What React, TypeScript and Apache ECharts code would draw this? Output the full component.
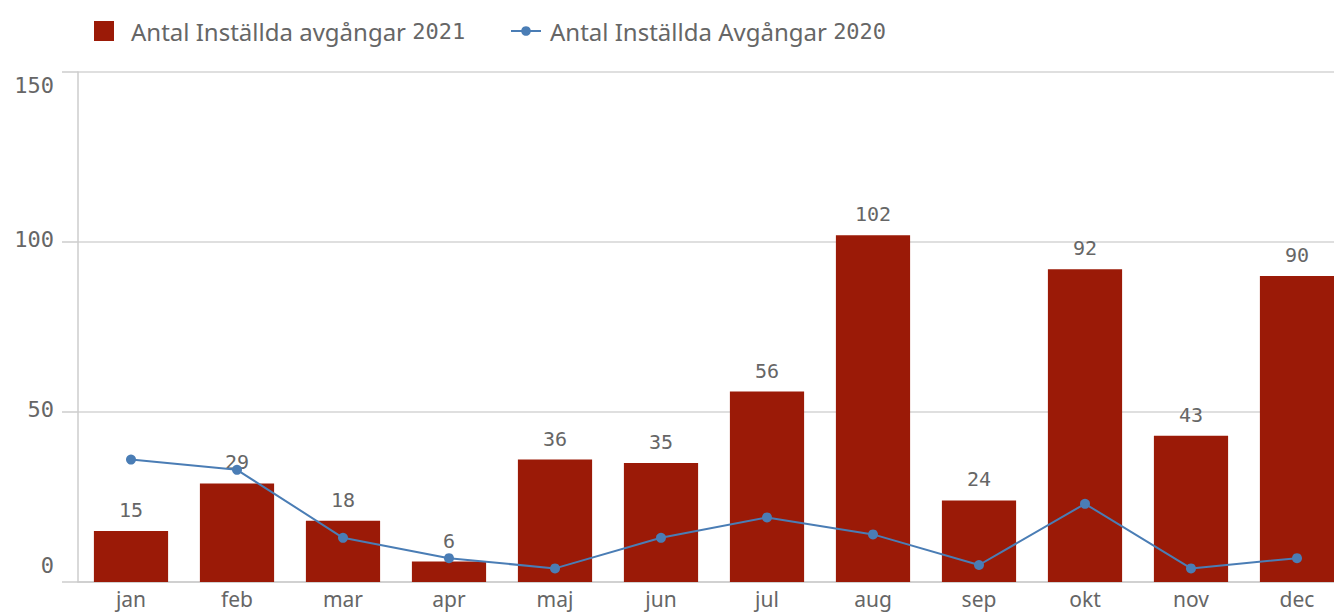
import React, { useEffect, useRef } from "react";
import * as echarts from "echarts";

const months = ["jan", "feb", "mar", "apr", "maj", "jun", "jul", "aug", "sep", "okt", "nov", "dec"];
const cancelled2021 = [15, 29, 18, 6, 36, 35, 56, 102, 24, 92, 43, 90];
const cancelled2020 = [36, 33, 13, 7, 4, 13, 19, 14, 5, 23, 4, 7];
const yMin = 0;
const yMax = 150;
const yStep = 50;
const name2021 = "Antal Inställda avgångar 2021";
const name2020 = "Antal Inställda Avgångar 2020";

const TEXT = "'Noto Sans', 'Open Sans', sans-serif";
const MONO = "'DejaVu Sans Mono', monospace";
const GRAY = "#666666";

function legendFormatter(name: string) {
  const m = name.match(/^(.*?)(\d+)$/);
  if (!m) return name;
  return `{t|${m[1]}}{n|${m[2]}}`;
}

const legendRich = {
  t: { fontFamily: TEXT, fontSize: 24, color: GRAY },
  n: { fontFamily: MONO, fontSize: 22, color: GRAY },
};

const yRich = {
  lo: { fontFamily: MONO, fontSize: 22, color: GRAY, padding: [0, 0, 33, 0] },
  hi: { fontFamily: MONO, fontSize: 22, color: GRAY, padding: [26, 0, 0, 0] },
  mid: { fontFamily: MONO, fontSize: 22, color: GRAY, padding: [0, 0, 5, 0] },
};

export default function App() {
  const ref = useRef<HTMLDivElement>(null);
  useEffect(() => {
    if (!ref.current) return;
    const chart = echarts.init(ref.current, null, { renderer: "svg" });
    chart.setOption({
      animation: false,
      backgroundColor: "#ffffff",
      legend: [
        {
          data: [{ name: name2021, icon: "rect" }],
          left: 94,
          top: 19,
          padding: 0,
          itemWidth: 20,
          itemHeight: 20,
          formatter: legendFormatter,
          textStyle: { rich: legendRich, padding: [0, 0, 0, 12] },
        },
        {
          data: [{ name: name2020 }],
          left: 510,
          top: 19,
          padding: 0,
          itemWidth: 30,
          itemHeight: 12,
          formatter: legendFormatter,
          textStyle: { rich: legendRich, padding: [0, 0, 0, 4] },
        },
      ],
      grid: { left: 78, right: 0, top: 72, bottom: 31, containLabel: false },
      xAxis: {
        type: "category",
        data: months,
        axisLine: { show: true, lineStyle: { color: "#cccccc", width: 1.5 } },
        axisTick: { show: false },
        axisLabel: { color: GRAY, fontFamily: TEXT, fontSize: 21, margin: 6 },
      },
      yAxis: {
        type: "value",
        min: yMin,
        max: yMax,
        interval: yStep,
        axisLine: { show: true, lineStyle: { color: "#cccccc", width: 1.5 } },
        axisTick: { show: true, length: 16, lineStyle: { color: "#cccccc", width: 1.5 } },
        splitLine: { show: true, lineStyle: { color: "#d4d4d4", width: 1.5 } },
        axisLabel: {
          color: GRAY,
          fontFamily: MONO,
          fontSize: 22,
          margin: 24,
          formatter: (v: number) =>
            v === yMin ? `{lo|${v}}` : v === yMax ? `{hi|${v}}` : `{mid|${v}}`,
          rich: yRich,
        },
      },
      series: [
        {
          name: name2021,
          type: "bar",
          data: cancelled2021,
          barWidth: "70%",
          itemStyle: { color: "#9b1a07" },
          label: {
            show: true,
            position: "top",
            distance: 11,
            color: GRAY,
            fontFamily: MONO,
            fontSize: 20,
          },
          z: 2,
        },
        {
          name: name2020,
          type: "line",
          data: cancelled2020,
          symbol: "circle",
          symbolSize: 10,
          lineStyle: { color: "#4a7db5", width: 2 },
          itemStyle: { color: "#4a7db5" },
          z: 5,
        },
      ],
    });
    return () => chart.dispose();
  }, []);
  return (
    <div style={{ position: "fixed", left: 0, top: 0, width: 1334, height: 613, overflow: "hidden", background: "#fff" }}>
      <div ref={ref} style={{ width: 1350, height: 613 }} />
    </div>
  );
}
